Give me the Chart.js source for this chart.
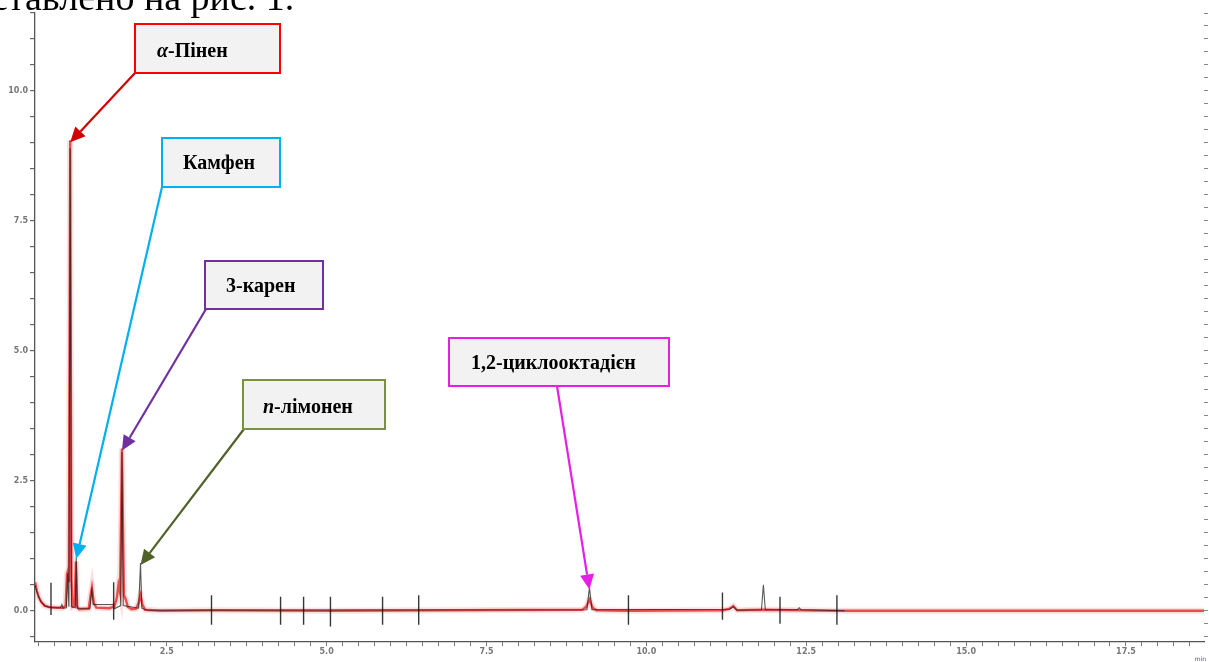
<!DOCTYPE html>
<html><head><meta charset="utf-8">
<script src="https://cdn.jsdelivr.net/npm/chart.js@4.4.1/dist/chart.umd.min.js"></script>
<style>
html,body{margin:0;padding:0;background:#fff;overflow:hidden}
#wrap{position:relative;width:1209px;height:662px}
#c{position:absolute;left:0;top:0}
#doc{position:absolute;left:-9px;top:-22px;font-family:"Liberation Serif","Times New Roman",serif;font-size:38px;line-height:38px;white-space:nowrap;color:#000}
#unit{position:absolute;right:3px;bottom:0px;font:6px "DejaVu Sans",sans-serif;color:#556;line-height:7px}
</style></head><body>
<div id="wrap"><canvas id="c" width="1209" height="662"></canvas><div id="doc">ставлено на рис. 1.</div><div id="unit">min</div></div>
<script>
// ---- data ----
const redTimes  = [0.44,0.47,0.50,0.54,0.59,0.66,0.80,0.88,0.92,0.94,0.955,0.97,0.99,1.01,1.03,1.06,1.08,1.10,1.13,1.28,1.31,1.33,1.36,1.40,1.60,1.68,1.72,1.745,1.77,1.80,1.83,1.86,1.89,1.95,2.02,2.06,2.09,2.12,2.16,2.40,3.20,5.00,9.00,9.06,9.11,9.16,9.22,9.72,11.20,11.30,11.36,11.42,11.83,12.98,18.72];
const redSignal = [0.55,0.38,0.26,0.17,0.10,0.07,0.06,0.06,0.10,0.70,0.77,0.55,9.05,0.60,0.08,0.10,0.95,0.08,0.03,0.04,0.30,0.45,0.15,0.06,0.05,0.08,0.25,0.50,0.35,3.12,0.30,0.22,0.08,0.03,0.04,0.15,0.30,0.12,0.02,0.00,0.01,0.00,0.02,0.08,0.22,0.06,0.01,0.00,0.01,0.04,0.09,0.01,0.02,0.00,0.00];
const blackTimes  = [0.44,0.48,0.53,0.60,0.70,0.84,0.86,0.88,0.93,0.95,0.97,0.99,1.01,1.07,1.085,1.10,1.30,1.33,1.35,1.66,1.68,1.78,1.80,1.82,2.06,2.09,2.11,2.20,9.07,9.11,9.15,11.30,11.36,11.42,11.80,11.83,11.86,12.36,12.39,12.42,13.10];
const blackSignal = [0.50,0.32,0.18,0.09,0.06,0.06,0.12,0.05,0.06,0.72,0.08,8.90,0.08,0.06,1.04,0.05,0.05,0.45,0.12,0.12,0.04,0.10,3.05,0.10,0.05,0.92,0.05,0.01,0.02,0.45,0.02,0.03,0.08,0.01,0.02,0.50,0.02,0.02,0.06,0.02,0.00];
const markerTimes = [0.69,1.67,3.20,4.28,4.64,5.06,5.875,6.44,9.72,11.19,12.09,12.98];
const markerLow   = [-0.08,-0.17,-0.27,-0.27,-0.27,-0.30,-0.27,-0.27,-0.27,-0.17,-0.25,-0.27];
const markerHigh  = [0.54,0.55,0.30,0.27,0.27,0.27,0.27,0.30,0.30,0.35,0.27,0.30];
const compounds  = [[['α',true],['-Пінен',false]],[['Камфен',false]],[['3-карен',false]],[['n',true],['-лімонен',false]],[['1,2-циклооктадієн',false]]];
const peakTimes  = [0.99,1.085,1.80,2.09,9.11];
const peakValues = [9.05,1.04,3.12,0.92,0.45];
const xTickLabels = ['2.5','5.0','7.5','10.0','12.5','15.0','17.5'];
const yTickLabels = ['0.0','2.5','5.0','7.5','10.0'];

// ---- layout / style of the callouts ----
const callouts = [
  {x:135,y:24,w:145,h:49,tx:157,ty:57,border:'#ff0000',arrow:'#d00000',sx:135,sy:73},
  {x:162,y:138,w:118,h:49,tx:183,ty:169,border:'#00b0f0',arrow:'#00b0f0',sx:162,sy:187},
  {x:205,y:261,w:118,h:48,tx:226,ty:292,border:'#7030a0',arrow:'#7030a0',sx:206,sy:309},
  {x:243,y:380,w:142,h:49,tx:263,ty:413,border:'#77933c',arrow:'#4f6228',sx:244,sy:429},
  {x:449,y:338,w:220,h:48,tx:471,ty:369,border:'#e61ee6',arrow:'#e61ee6',sx:557,sy:386}
];

const toXY = (xs, ys) => xs.map((t,i)=>({x:t,y:ys[i]}));
const markerData = [];
markerTimes.forEach((t,i)=>{ markerData.push({x:t,y:markerLow[i]},{x:t,y:markerHigh[i]},{x:t,y:null}); });

const calloutPlugin = {
  id:'callouts',
  afterDatasetsDraw(chart){
    const ctx = chart.ctx, xs = chart.scales.x, ys = chart.scales.y;
    callouts.forEach((c,i)=>{
      const tx = xs.getPixelForValue(peakTimes[i]);
      const ty = ys.getPixelForValue(peakValues[i]) + 2;
      const dx = tx - c.sx, dy = ty - c.sy, len = Math.hypot(dx,dy);
      const ux = dx/len, uy = dy/len, hl = 15, hw = 7;
      const bx = tx - ux*hl, by = ty - uy*hl;
      ctx.save();
      ctx.strokeStyle = c.arrow; ctx.fillStyle = c.arrow; ctx.lineWidth = 2.2;
      ctx.beginPath(); ctx.moveTo(c.sx,c.sy); ctx.lineTo(bx,by); ctx.stroke();
      ctx.beginPath(); ctx.moveTo(tx,ty); ctx.lineTo(bx - uy*hw, by + ux*hw); ctx.lineTo(bx + uy*hw, by - ux*hw); ctx.closePath(); ctx.fill();
      ctx.fillStyle = '#f2f2f2'; ctx.fillRect(c.x,c.y,c.w,c.h);
      ctx.strokeStyle = c.border; ctx.lineWidth = 2; ctx.strokeRect(c.x,c.y,c.w,c.h);
      ctx.fillStyle = '#000'; ctx.textBaseline = 'alphabetic'; ctx.textAlign = 'left';
      let px = c.tx;
      compounds[i].forEach(([s,it])=>{
        ctx.font = (it?'italic ':'') + 'bold 20px "Liberation Serif", "Times New Roman", serif';
        ctx.fillText(s, px, c.ty);
        px += ctx.measureText(s).width;
      });
      ctx.restore();
    });
  }
};

const tickFont = {family:'"DejaVu Sans", sans-serif', size:8, weight:'bold'};
function range(a,b,s){const r=[];for(let v=a;v<=b+1e-9;v+=s)r.push(Math.round(v*100)/100);return r;}

new Chart(document.getElementById('c'), {
  type:'line',
  data:{datasets:[
    {data:markerData, borderColor:'rgba(20,20,20,0.85)', borderWidth:1.4, pointRadius:0, spanGaps:false, order:0},
    {data:toXY(blackTimes,blackSignal), borderColor:'rgba(25,25,25,0.72)', borderWidth:1.1, pointRadius:0, order:1},
    {data:toXY(redTimes,redSignal), borderColor:'rgba(232,50,50,0.85)', borderWidth:2.4, pointRadius:0, order:2},
    {data:toXY(redTimes,redSignal), borderColor:'rgba(245,130,130,0.25)', borderWidth:6, pointRadius:0, order:3}
  ]},
  options:{
    responsive:false, animation:false, parsing:true,
    layout:{padding:{top:13,left:0,right:0,bottom:0}},
    plugins:{legend:{display:false}, tooltip:{enabled:false}},
    elements:{line:{tension:0}},
    scales:{
      x:{type:'linear', min:0.44, max:18.72,
        afterBuildTicks(a){a.ticks = range(0.5,18.5,0.25).map(v=>({value:v}));},
        afterFit(a){a.height = 20;},
        ticks:{autoSkip:false, maxRotation:0, padding:1, font:tickFont, color:'#777',
          callback(v){const s=Number(v).toFixed(1);return xTickLabels.includes(s)?s:'';}},
        grid:{drawOnChartArea:false, drawTicks:true, tickLength:4, color:'#777', lineWidth:1},
        border:{display:true, color:'#555', width:1.3}
      },
      y:{type:'linear', min:-0.6, max:11.5,
        afterBuildTicks(a){a.ticks = range(-0.5,11.5,0.5).map(v=>({value:v}));},
        afterFit(a){a.width = 35;},
        ticks:{autoSkip:false, padding:2, font:tickFont, color:'#777',
          callback(v){const s=Number(v).toFixed(1);return yTickLabels.includes(s)?s:'';}},
        grid:{drawOnChartArea:false, drawTicks:true, tickLength:5, color:'#666', lineWidth:1.2},
        border:{display:true, color:'#555', width:1.3}
      },
      y2:{type:'linear', position:'right', min:-0.6, max:11.5,
        afterBuildTicks(a){a.ticks = range(-0.5,11.5,0.25).map(v=>({value:v}));},
        afterFit(a){a.width = 5;},
        ticks:{display:false},
        grid:{drawOnChartArea:false, drawTicks:true, tickLength:4, color:'#888'},
        border:{display:false}
      }
    }
  },
  plugins:[calloutPlugin]
});
</script>
</body></html>
